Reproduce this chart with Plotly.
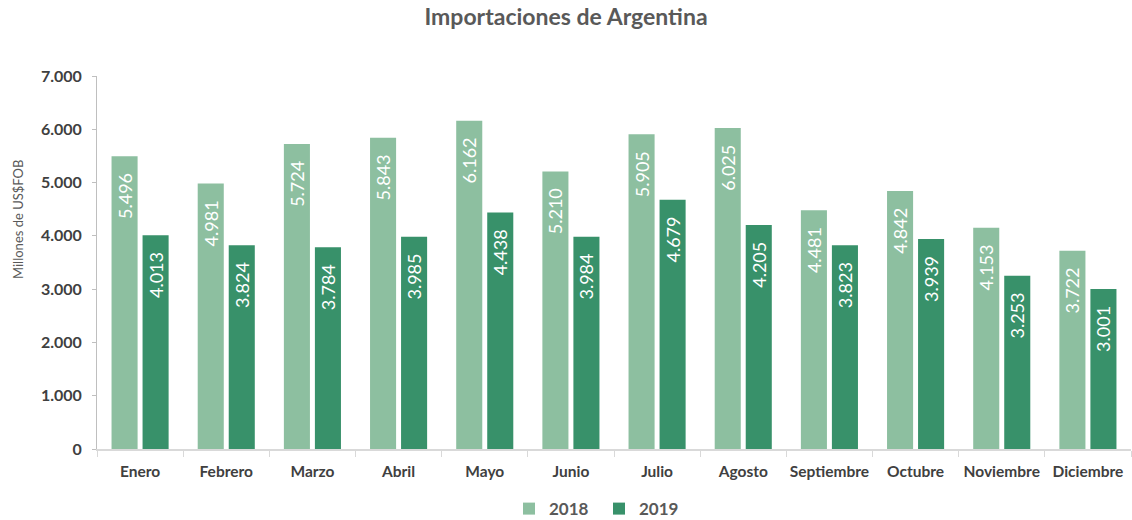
import plotly.graph_objects as go

meses = ["Enero", "Febrero", "Marzo", "Abril", "Mayo", "Junio", "Julio",
         "Agosto", "Septiembre", "Octubre", "Noviembre", "Diciembre"]
v2018 = [5496, 4981, 5724, 5843, 6162, 5210, 5905, 6025, 4481, 4842, 4153, 3722]
v2019 = [4013, 3824, 3784, 3985, 4438, 3984, 4679, 4205, 3823, 3939, 3253, 3001]

FONT = "Lato, 'Open Sans', sans-serif"
c18 = "#8DBFA0"
c19 = "#38916A"

def lab(vals):
    return [f"{v:,}".replace(",", ".") + "\u00a0\u00a0\u00a0" for v in vals]

fig = go.Figure()
fig.add_bar(x=meses, y=v2018, name="<b>2018</b>", marker_color=c18, marker_line_width=0,
            text=lab(v2018), textposition="inside", insidetextanchor="end",
            textangle=-90, textfont=dict(color="white", size=18, family=FONT))
fig.add_bar(x=meses, y=v2019, name="<b>2019</b>", marker_color=c19, marker_line_width=0,
            text=lab(v2019), textposition="inside", insidetextanchor="end",
            textangle=-90, textfont=dict(color="white", size=18, family=FONT))

fig.update_layout(
    width=1132, height=520,
    margin=dict(l=97, r=1, t=76, b=71, autoexpand=False),
    paper_bgcolor="white", plot_bgcolor="white",
    separators=",.",
    barmode="group", bargap=0.28, bargroupgap=0.16,
    uniformtext=dict(minsize=18, mode="show"),
    title=dict(text="<b>Importaciones de Argentina</b>", x=0.5, xanchor="center",
               y=1 - 17 / 520, yanchor="middle",
               font=dict(family=FONT, size=23, color="#595959")),
    font=dict(family=FONT, color="#595959"),
    legend=dict(orientation="h", x=0.5 - 15 / 1034, xanchor="center", y=-0.161,
                yanchor="middle",
                font=dict(size=17, color="#595959", family=FONT),
                traceorder="normal", itemwidth=30,
                entrywidth=45, entrywidthmode="pixels"),
    showlegend=True,
    annotations=[dict(text="Millones de US$FOB", textangle=-90,
                      xref="paper", yref="paper", x=-79 / 1034, y=0.614,
                      xanchor="center", yanchor="middle", showarrow=False,
                      font=dict(size=13, color="#595959", family=FONT))],
)
fig.update_xaxes(showline=True, linecolor="#D9D9D9", linewidth=2,
                 ticks="outside", tickson="boundaries", tickcolor="#D9D9D9",
                 ticklen=6, tickwidth=1, automargin=False, ticklabelstandoff=7,
                 tickangle=0,
                 tickfont=dict(size=15.5, color="#404040", family=FONT),
                 tickprefix="<b>", ticksuffix="</b>")
fig.update_yaxes(range=[0, 7000], dtick=1000, tickformat=",d",
                 showgrid=False, zeroline=False, automargin=False,
                 showline=True, linecolor="#BFBFBF", linewidth=1,
                 ticks="outside", tickcolor="#BFBFBF", ticklen=4,
                 ticklabelstandoff=7,
                 tickfont=dict(size=16, color="#404040", family=FONT),
                 tickprefix="<b>", ticksuffix="</b>")

fig.write_html("out.html", config={"displayModeBar": False},
               post_script="document.body.style.margin='0';document.body.style.padding='0';")
